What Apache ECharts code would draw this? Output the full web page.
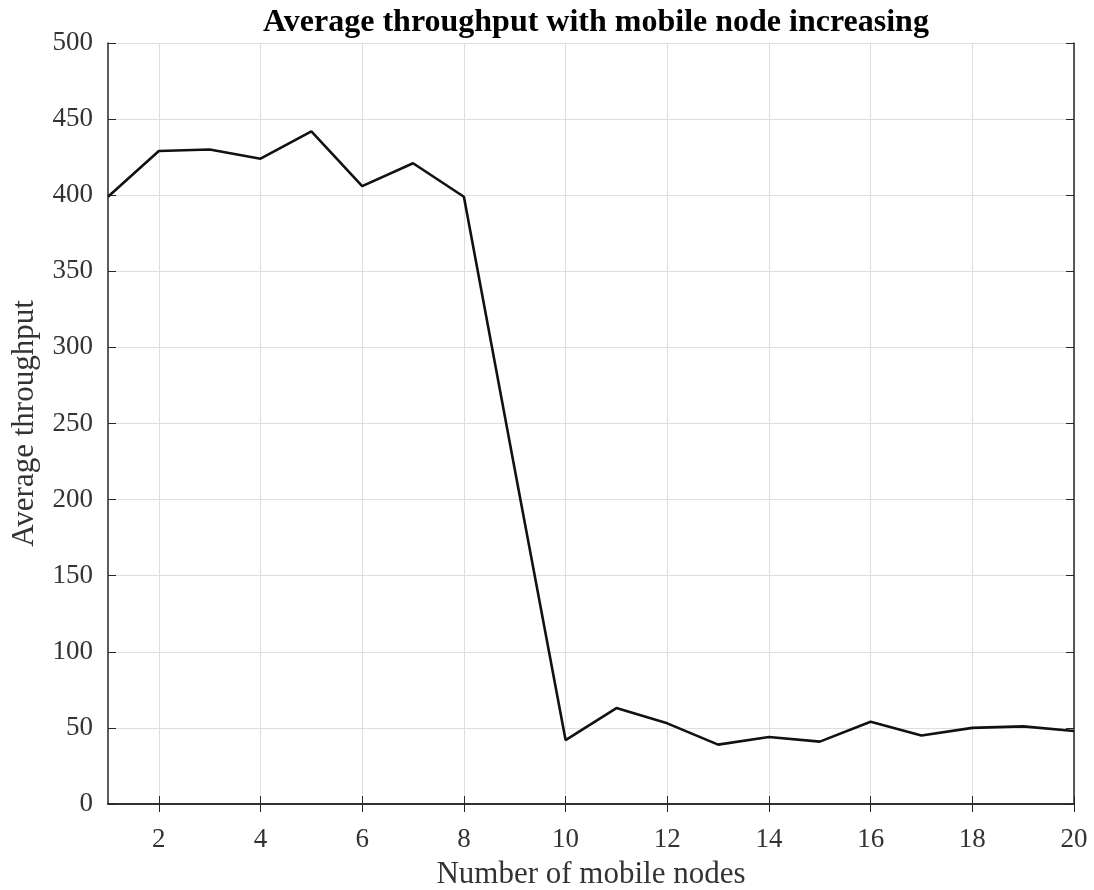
<!DOCTYPE html>
<html>
<head>
<meta charset="utf-8">
<script src="https://cdn.jsdelivr.net/npm/echarts@6/dist/echarts.min.js"></script>
<style>
  html, body { margin: 0; padding: 0; background: #fff; }
  #chart { width: 1094px; height: 890px; }
</style>
</head>
<body>
<div id="chart"></div>
<script>
// number of mobile nodes
var nodes = ['1', '2', '3', '4', '5', '6', '7', '8', '9', '10',
             '11', '12', '13', '14', '15', '16', '17', '18', '19', '20'];
// average throughput
var throughput = [399, 429, 430, 424, 442, 406, 421, 399, 220, 42,
                  63, 53, 39, 44, 41, 54, 45, 50, 51, 48];

var font = '"Liberation Serif", "DejaVu Serif", serif';
var axisColor = '#262626';
var gridColor = '#dedede';

function evenOnly(i) { return i % 2 === 1; }

var myChart = echarts.init(document.getElementById('chart'));
var option = {
    backgroundColor: '#fff',
    animation: false,
    title: {
        text: 'Average throughput with mobile node increasing',
        left: 591,
        textAlign: 'center',
        top: 2,
        textStyle: {
            fontFamily: font,
            fontWeight: 'bold',
            fontSize: 32,
            color: '#000'
        }
    },
    grid: {
        left: 108,
        right: 20,
        top: 43,
        bottom: 86,
        outerBoundsMode: 'none'
    },
    xAxis: [{
        type: 'category',
        data: nodes,
        boundaryGap: false,
        name: 'Number of mobile nodes',
        nameLocation: 'middle',
        nameGap: 55,
        nameTextStyle: { fontFamily: font, fontSize: 31, color: '#333' },
        axisLine: { lineStyle: { color: axisColor, width: 1.5 } },
        axisTick: { inside: true, length: 8, interval: evenOnly, lineStyle: { color: axisColor } },
        axisLabel: {
            interval: evenOnly,
            margin: 22,
            fontFamily: font, fontSize: 27, color: '#333'
        },
        splitLine: { show: true, interval: evenOnly, lineStyle: { color: gridColor } }
    }, {
        type: 'category',
        data: nodes,
        boundaryGap: false,
        position: 'top',
        axisLine: { lineStyle: { color: axisColor, width: 1.5 } },
        axisTick: { inside: true, length: 8, interval: evenOnly, lineStyle: { color: axisColor } },
        axisLabel: { show: false },
        splitLine: { show: false }
    }],
    yAxis: [{
        type: 'value',
        min: 0,
        max: 500,
        interval: 50,
        name: 'Average throughput',
        nameLocation: 'middle',
        nameGap: 68,
        nameTextStyle: { fontFamily: font, fontSize: 31, color: '#333' },
        axisLine: { show: true, lineStyle: { color: axisColor, width: 1.5 } },
        axisTick: { show: true, inside: true, length: 8, lineStyle: { color: axisColor } },
        axisLabel: { margin: 15, fontFamily: font, fontSize: 27, color: '#333' },
        splitLine: { show: true, lineStyle: { color: gridColor } }
    }, {
        type: 'value',
        min: 0,
        max: 500,
        interval: 50,
        position: 'right',
        axisLine: { show: true, lineStyle: { color: axisColor, width: 1.5 } },
        axisTick: { show: true, inside: true, length: 8, lineStyle: { color: axisColor } },
        axisLabel: { show: false },
        splitLine: { show: false }
    }],
    series: [{
        type: 'line',
        data: throughput,
        symbol: 'none',
        lineStyle: { color: '#111', width: 2.6 }
    }]
};
myChart.setOption(option);
</script>
</body>
</html>
